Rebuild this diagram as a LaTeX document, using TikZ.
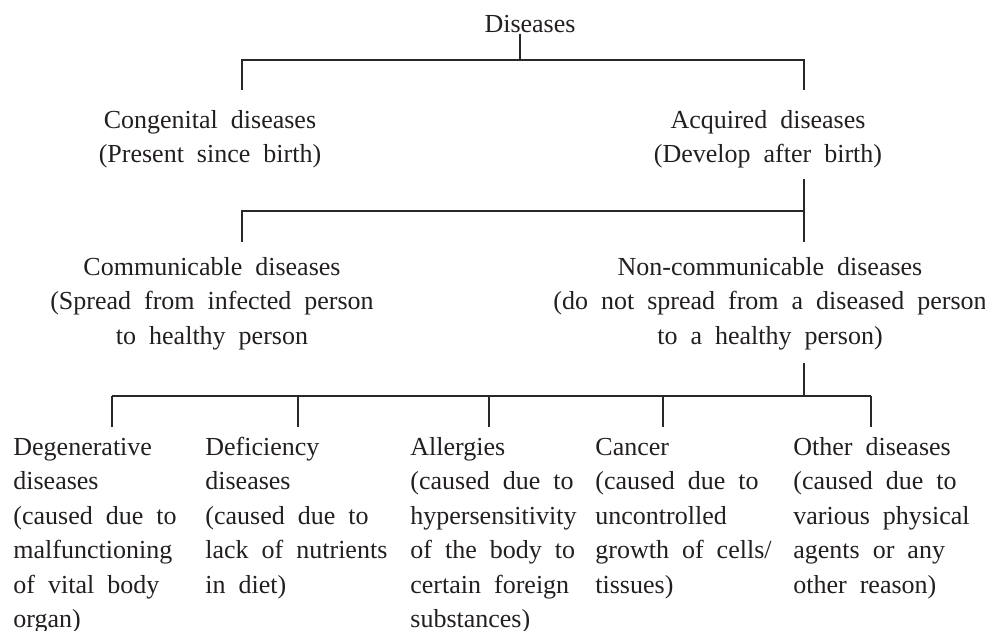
\documentclass[tikz,border=0pt]{standalone}
\usepackage{fontspec}
\setmainfont{Liberation Serif}
\usetikzlibrary{positioning}
\definecolor{ink}{RGB}{35,31,32}
\definecolor{rule}{RGB}{40,40,40}
\newcommand{\treefont}{\fontsize{13}{17.25}\selectfont\spaceskip=.5em\relax}

\begin{document}
\begin{tikzpicture}[
  x=0.5pt, y=-0.5pt,
  font=\treefont,
  txt/.style={anchor=base, align=center, inner sep=0pt, text=ink},
  leaf/.style={anchor=base west, align=left, inner sep=0pt, text=ink},
  link/.style={line width=1pt, draw=rule},
]
\useasboundingbox (0,0) rectangle (985,631);

% ---------- Top level ----------
% (base anchor of a multi-line node = baseline of its last line)
\node[txt] (root) at (530,33) {Diseases};
\node[txt] (cong) at (210,162.5) {Congenital diseases\\(Present since birth)};
\node[txt] (acq) at (768,162.5) {Acquired diseases\\(Develop after birth)};

\coordinate (j1) at (520,60);
\coordinate (l1) at (242,60);
\coordinate (r1) at (804,60);
\coordinate (l1e) at (242,90);
\coordinate (r1e) at (804,90);
\draw[link] (root.south -| j1) -- (j1);
\draw[link] (l1e) -- (l1) -- (r1) -- (r1e);

% ---------- Acquired split ----------
\node[txt] (comm) at (212,344) {Communicable diseases\\(Spread from infected person\\to healthy person};
\node[txt] (noncomm) at (770,344) {Non-communicable diseases\\(do not spread from a diseased person\\to a healthy person)};

\coordinate (j2s) at (804,179);
\coordinate (j2) at (804,211);
\coordinate (l2) at (242,211);
\coordinate (j2e) at (804,242);
\coordinate (l2e) at (242,242);
\draw[link] (j2s) -- (j2e);
\draw[link] (j2) -- (l2) -- (l2e);

% ---------- Non-communicable kinds ----------
\node[leaf] (degen) at (13,627.5) {Degenerative\\diseases\\(caused due to\\malfunctioning\\of vital body\\organ)};
\node[leaf] (defic) at (205,593) {Deficiency\\diseases\\(caused due to\\lack of nutrients\\in diet)};
\node[leaf] (allerg) at (410,627.5) {Allergies\\(caused due to\\hypersensitivity\\of the body to\\certain foreign\\substances)};
\node[leaf] (cancer) at (595,593) {Cancer\\(caused due to\\uncontrolled\\growth of cells/\\tissues)};
\node[leaf] (other) at (793,593) {Other diseases\\(caused due to\\various physical\\agents or any\\other reason)};

\coordinate (j3s) at (804,363);
\coordinate (j3) at (804,396);
\coordinate (l3) at (112,396);
\coordinate (r3) at (871,396);
\draw[link] (j3s) -- (j3);
\draw[link] (l3) -- (r3);
\foreach \x in {112,298,489,663,871}
  \draw[link] (\x,396) -- (\x,427);

\end{tikzpicture}
\end{document}
